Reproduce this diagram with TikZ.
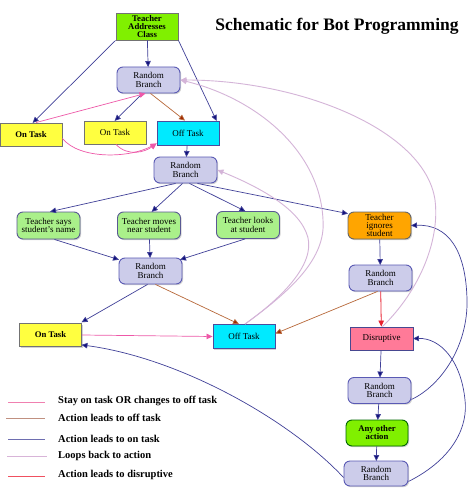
\documentclass[tikz,border=0pt]{standalone}
\usepackage{fontspec}
\setmainfont{Liberation Serif}
\usetikzlibrary{arrows.meta,shadows,calc}
\definecolor{navyline}{HTML}{404098}
\definecolor{navytip}{HTML}{10107A}
\definecolor{brownline}{HTML}{B8683A}
\definecolor{browntip}{HTML}{A02800}
\definecolor{pinkline}{HTML}{EE58A8}
\definecolor{lavline}{HTML}{D4B4D8}
\definecolor{redline}{HTML}{E82030}
\definecolor{tacgreen}{HTML}{80F000}
\definecolor{rbfill}{HTML}{CCCCEA}
\definecolor{rbdraw}{HTML}{5A5AB4}
\definecolor{yelfill}{HTML}{FFFF40}
\definecolor{cyanfill}{HTML}{00EAFF}
\definecolor{ltgreen}{HTML}{AAF08A}
\definecolor{orfill}{HTML}{FFA500}
\definecolor{disfill}{HTML}{FF7A98}
\definecolor{legpink}{HTML}{F080B0}
\definecolor{legbrown}{HTML}{C09080}
\definecolor{legnavy}{HTML}{6E6EB0}
\definecolor{leglav}{HTML}{D8B4D8}
\definecolor{legred}{HTML}{F05060}
\begin{document}
\begin{tikzpicture}[x=1pt,y=-1pt,
  box/.style={draw, line width=0.9pt, inner sep=0pt, align=center,
    font=\fontsize{9}{8.4}\selectfont,
    drop shadow={shadow xshift=1.2pt, shadow yshift=-1.2pt, opacity=0.35, fill=gray}},
  rbox/.style={box, fill=rbfill, draw=rbdraw, rounded corners=6pt, minimum width=63pt, minimum height=26pt},
  ontask/.style={box, fill=yelfill, draw=black!55, minimum width=62pt, minimum height=23pt},
  offtask/.style={box, fill=cyanfill, draw=blue!45!black!70, minimum width=62pt, minimum height=24pt},
  action/.style={box, fill=ltgreen, draw=blue!35!black!65, rounded corners=6pt, minimum width=63pt, minimum height=27pt},
  navy/.style={draw=navyline, line width=0.7pt, -{Triangle[length=6pt,width=5.5pt,fill=navytip]}, shorten >=-0.5pt},
  brownarr/.style={draw=brownline, line width=0.7pt, -{Triangle[length=6pt,width=5.5pt,fill=browntip]}},
  pinkarr/.style={draw=pinkline, line width=0.7pt, -{Triangle[length=6pt,width=5.5pt,fill=pinkline]}},
  lav/.style={draw=lavline, line width=0.9pt, -{Triangle[length=6pt,width=5.5pt,fill=lavline]}},
  redarr/.style={draw=redline, line width=0.8pt, -{Triangle[length=6pt,width=5.5pt,fill=redline]}},
  legline/.style={line width=1pt},
  legtext/.style={anchor=west, inner sep=0pt, font=\bfseries\fontsize{10.5}{12}\selectfont}
]
\useasboundingbox (0,0) rectangle (474,489);
\fill[white] (0,0) rectangle (474,489);

% title
\node[inner sep=0pt, font=\bfseries\fontsize{17.5}{20}\selectfont] (title) at (337,26) {Schematic for Bot Programming};

% nodes
\node[box, fill=tacgreen, draw=black!55, minimum width=62pt, minimum height=27pt, font=\bfseries\fontsize{8.7}{8}\selectfont] (tac) at (147,26.5) {Teacher\\Addresses\\Class};
\node[rbox] (rb1) at (148.5,80) {Random\\Branch};
\node[ontask, font=\bfseries\fontsize{8.7}{8}\selectfont] (ot1) at (31,134.5) {On Task};
\node[ontask] (ot2) at (115,132.5) {On Task};
\node[offtask] (of1) at (188,133) {Off Task};
\node[rbox] (rb2) at (185.5,170) {Random\\Branch};
\node[action] (tss) at (48.5,225.5) {Teacher says\\student's name};
\node[action] (tmn) at (149,225.5) {Teacher moves\\near student};
\node[action] (tls) at (248,225) {Teacher looks\\at student};
\node[rbox] (rb3) at (150.5,271) {Random\\Branch};
\node[ontask, font=\bfseries\fontsize{8.7}{8}\selectfont] (ot3) at (50.5,335) {On Task};
\node[offtask] (of2) at (244,336.5) {Off Task};
\node[box, fill=orfill, draw=black!60, rounded corners=6pt, minimum width=63pt, minimum height=27pt] (tis) at (379.5,225.5) {Teacher\\ignores\\student};
\node[rbox] (rb4) at (380.5,278) {Random\\Branch};
\node[box, fill=disfill, draw=rbdraw!80!black, minimum width=63pt, minimum height=23pt] (dis) at (381.5,338.5) {\raisebox{-3pt}{Disruptive}};
\node[rbox] (rb5) at (379.5,390.5) {Random\\Branch};
\node[box, fill=tacgreen, draw=green!40!black, rounded corners=6pt, minimum width=62pt, minimum height=26pt, font=\bfseries\fontsize{8.7}{8}\selectfont] (aoa) at (377,433) {Any other\\action};
\node[rbox, minimum width=64pt, minimum height=25pt] (rb6) at (376,473.5) {Random\\Branch};

% tree connectors
\draw[navy] (tac) -- (rb1);
\draw[navy] (tac.south west) -- ($(ot1.north)+(2,0)$);
\draw[navy] (tac.south east) -- ($(of1.north east)+(-3,0)$);
\draw[navy] ($(rb1.south)+(-6,0)$) -- (ot2.north);
\draw[brownarr] ($(rb1.south)+(2,0)$) -- ($(of1.north)+(-3,0)$);
\draw[pinkarr] ($(ot1.north)+(5,0)$) -- ($(rb1.south)+(-3,0)$);
\draw[pinkarr] ($(ot1.east)+(0,4)$) .. controls (80,160) and (130,158) .. ($(of1.south west)+(0,-2)$);
\draw[pinkarr] ($(ot2.south)+(1,0)$) .. controls (128,157) and (145,152) .. ($(of1.south west)+(0,-2)$);
\draw[navy] (of1) -- (rb2);
\draw[navy] ($(rb2.south)+(-10,0)$) -- ($(tss.north)+(2,0)$);
\draw[navy] ($(rb2.south)+(-3,0)$) -- ($(tmn.north)+(3,0)$);
\draw[navy] ($(rb2.south)+(4,0)$) -- ($(tls.north)+(-3,0)$);
\draw[navy] ($(rb2.south)+(12,0)$) -- ($(tis.north west)+(0,2)$);
\draw[navy] ($(tss.south)+(6,0)$) -- ($(rb3.north west)+(0,2)$);
\draw[navy] (tmn) -- (rb3);
\draw[navy] ($(tls.south)+(-3,0)$) -- ($(rb3.north east)+(-2,2)$);
\draw[navy] ($(rb3.south)+(-3,0)$) -- ($(ot3.north east)+(0,-1)$);
\draw[brownarr] ($(rb3.south)+(5,0)$) -- ($(of2.north)+(-5,0)$);
\draw[pinkarr] (ot3.east) -- (of2.west);
\draw[navy] (tis) -- (rb4);
\draw[brownarr] ($(rb4.south)+(-3,0)$) -- ($(of2.east)+(0,-3)$);
\draw[redarr] (rb4) -- (dis);
\draw[navy] (dis) -- (rb5);
\draw[navy] (rb5) -- (aoa);
\draw[navy] (aoa) -- (rb6);

% long navy curves
\draw[navy] ($(rb5.east)+(0,9)$) .. controls (442,385) and (468,345) .. (467,300)
   .. controls (466,250) and (448,224) .. (tis.east);
\draw[navy] ($(rb6.east)+(0,8)$) .. controls (455,458) and (468,425) .. (465,400)
   .. controls (461,360) and (440,338) .. (dis.east);
\draw[navy] ($(rb6.west)+(0,4)$) .. controls (290,420) and (180,358) .. ($(ot3.south east)+(0,-2)$);

% loops back (lavender)
\draw[lav] ($(of2.north)+(1,0)$) .. controls (290,292) and (318,258) .. (306,232)
   .. controls (295,205) and (252,184) .. (rb2.east);
\draw[lav] ($(of2.north)+(1,0)$) .. controls (292,290) and (326,258) .. (323,220)
   .. controls (320,150) and (255,98) .. (rb1.east);
\draw[lav] ($(dis.north)+(1,0)$) .. controls (420,290) and (440,240) .. (435,200)
   .. controls (425,130) and (300,80) .. (rb1.east);

% legend
\coordinate (l1a) at (8,402);   \coordinate (l1b) at (45,402);
\coordinate (l2a) at (6,418);   \coordinate (l2b) at (45,418);
\coordinate (l3a) at (8,439);   \coordinate (l3b) at (45,439);
\coordinate (l4a) at (7,456);   \coordinate (l4b) at (47,456);
\coordinate (l5a) at (8,476);   \coordinate (l5b) at (45,476);
\draw[legline, draw=legpink] (l1a) -- (l1b);
\draw[legline, draw=legbrown] (l2a) -- (l2b);
\draw[legline, draw=legnavy] (l3a) -- (l3b);
\draw[legline, draw=leglav] (l4a) -- (l4b);
\draw[legline, draw=legred] (l5a) -- (l5b);
\node[legtext] (t1) at (58,401) {Stay on task OR changes to off task};
\node[legtext] (t2) at (58,418) {Action leads to off task};
\node[legtext] (t3) at (58,439) {Action leads to on task};
\node[legtext] (t4) at (58,456) {Loops back to action};
\node[legtext] (t5) at (58,475) {Action leads to disruptive};
\end{tikzpicture}
\end{document}
